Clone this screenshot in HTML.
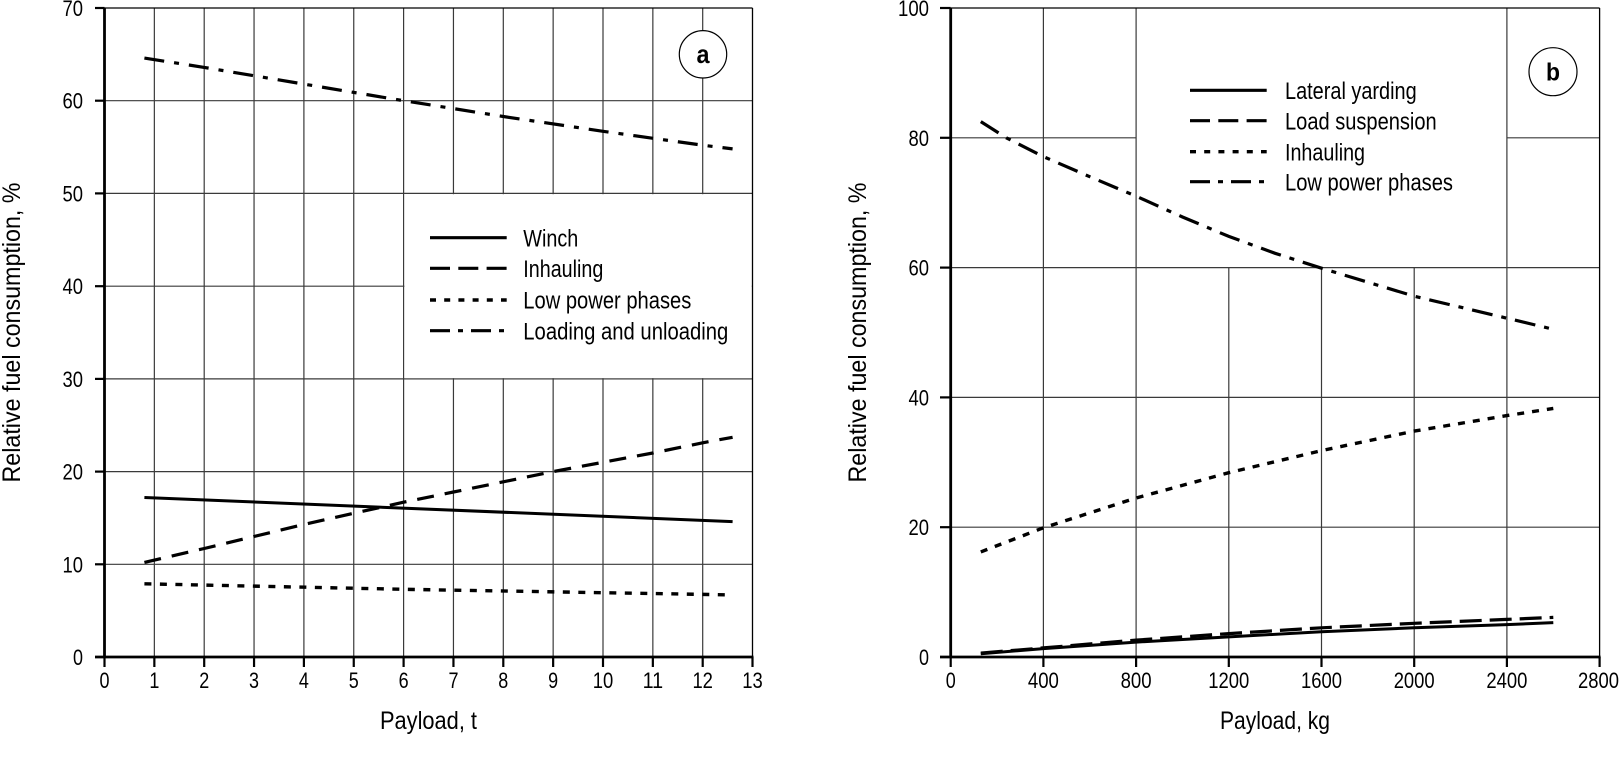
<!DOCTYPE html>
<html><head><meta charset="utf-8"><style>
html,body{margin:0;padding:0;background:#fff;}
svg{display:block;}
text{font-family:"Liberation Sans",Arial,sans-serif;fill:#000;}
</style></head><body>
<svg width="1620" height="762" viewBox="0 0 1620 762" xmlns="http://www.w3.org/2000/svg">
<rect x="0" y="0" width="1620" height="762" fill="#fff"/>

<!-- ============ LEFT CHART ============ -->
<g stroke="#3a3a3a" stroke-width="1.2" fill="none">
  <line x1="154.35" y1="8" x2="154.35" y2="657"/>
  <line x1="204.2" y1="8" x2="204.2" y2="657"/>
  <line x1="254.05" y1="8" x2="254.05" y2="657"/>
  <line x1="303.9" y1="8" x2="303.9" y2="657"/>
  <line x1="353.75" y1="8" x2="353.75" y2="657"/>
  <line x1="403.6" y1="8" x2="403.6" y2="657"/>
  <line x1="453.45" y1="8" x2="453.45" y2="657"/>
  <line x1="503.3" y1="8" x2="503.3" y2="657"/>
  <line x1="553.15" y1="8" x2="553.15" y2="657"/>
  <line x1="603.0" y1="8" x2="603.0" y2="657"/>
  <line x1="652.85" y1="8" x2="652.85" y2="657"/>
  <line x1="702.7" y1="8" x2="702.7" y2="657"/>
  <line x1="104.5" y1="564.3" x2="752.5" y2="564.3"/>
  <line x1="104.5" y1="471.6" x2="752.5" y2="471.6"/>
  <line x1="104.5" y1="378.9" x2="752.5" y2="378.9"/>
  <line x1="104.5" y1="286.2" x2="752.5" y2="286.2"/>
  <line x1="104.5" y1="193.4" x2="752.5" y2="193.4"/>
  <line x1="104.5" y1="100.7" x2="752.5" y2="100.7"/>
</g>
<!-- legend box left -->
<rect x="404.4" y="194.2" width="347.4" height="183.9" fill="#fff"/>
<!-- borders -->
<line x1="104.5" y1="8" x2="752.5" y2="8" stroke="#000" stroke-width="1.3"/>
<line x1="752.5" y1="8" x2="752.5" y2="657" stroke="#000" stroke-width="1.3"/>

<!-- series left -->
<polyline fill="none" stroke="#000" stroke-width="3.2" stroke-dasharray="20 10 5 10"
  points="144.4,58.1 204.2,67.4 303.9,84.1 403.6,100.7 503.3,116.5 603.0,131.3 702.7,145.2 732.6,148.9"/>
<polyline fill="none" stroke="#000" stroke-width="3" points="144.4,497.5 732.6,521.6"/>
<polyline fill="none" stroke="#000" stroke-width="3.2" stroke-dasharray="17 11"
  points="144.4,562.4 204.2,548.5 254.05,536.5 303.9,524.4 353.75,513.3 403.6,502.2 453.45,492.0 503.3,481.8 553.15,471.6 603.0,462.3 652.85,453.0 702.7,442.8 732.6,437.3"/>
<polyline fill="none" stroke="#000" stroke-width="3.4" stroke-dasharray="7 8.5"
  points="144.4,583.8 403.6,589.3 732.6,594.9"/>

<!-- axes left -->
<line x1="104.5" y1="8" x2="104.5" y2="658" stroke="#000" stroke-width="2.8"/>
<line x1="95" y1="657" x2="753.5" y2="657" stroke="#000" stroke-width="2.8"/>
<g stroke="#000" stroke-width="2.2">
  <line x1="95" y1="564.3" x2="104.5" y2="564.3"/>
  <line x1="95" y1="471.6" x2="104.5" y2="471.6"/>
  <line x1="95" y1="378.9" x2="104.5" y2="378.9"/>
  <line x1="95" y1="286.2" x2="104.5" y2="286.2"/>
  <line x1="95" y1="193.4" x2="104.5" y2="193.4"/>
  <line x1="95" y1="100.7" x2="104.5" y2="100.7"/>
  <line x1="95" y1="8" x2="104.5" y2="8"/>
  <line x1="104.5" y1="657" x2="104.5" y2="667"/>
  <line x1="154.35" y1="657" x2="154.35" y2="667"/>
  <line x1="204.2" y1="657" x2="204.2" y2="667"/>
  <line x1="254.05" y1="657" x2="254.05" y2="667"/>
  <line x1="303.9" y1="657" x2="303.9" y2="667"/>
  <line x1="353.75" y1="657" x2="353.75" y2="667"/>
  <line x1="403.6" y1="657" x2="403.6" y2="667"/>
  <line x1="453.45" y1="657" x2="453.45" y2="667"/>
  <line x1="503.3" y1="657" x2="503.3" y2="667"/>
  <line x1="553.15" y1="657" x2="553.15" y2="667"/>
  <line x1="603.0" y1="657" x2="603.0" y2="667"/>
  <line x1="652.85" y1="657" x2="652.85" y2="667"/>
  <line x1="702.7" y1="657" x2="702.7" y2="667"/>
  <line x1="752.5" y1="657" x2="752.5" y2="667"/>
</g>

<!-- y tick labels left -->
<g font-size="22" text-anchor="end">
  <text x="83" y="665" textLength="10" lengthAdjust="spacingAndGlyphs">0</text>
  <text x="83" y="572.3" textLength="20.5" lengthAdjust="spacingAndGlyphs">10</text>
  <text x="83" y="479.6" textLength="20.5" lengthAdjust="spacingAndGlyphs">20</text>
  <text x="83" y="386.9" textLength="20.5" lengthAdjust="spacingAndGlyphs">30</text>
  <text x="83" y="294.2" textLength="20.5" lengthAdjust="spacingAndGlyphs">40</text>
  <text x="83" y="201.4" textLength="20.5" lengthAdjust="spacingAndGlyphs">50</text>
  <text x="83" y="108.7" textLength="20.5" lengthAdjust="spacingAndGlyphs">60</text>
  <text x="83" y="16" textLength="20.5" lengthAdjust="spacingAndGlyphs">70</text>
</g>
<!-- x tick labels left -->
<g font-size="22" text-anchor="middle">
  <text x="104.5" y="688" textLength="10" lengthAdjust="spacingAndGlyphs">0</text>
  <text x="154.35" y="688" textLength="10" lengthAdjust="spacingAndGlyphs">1</text>
  <text x="204.2" y="688" textLength="10" lengthAdjust="spacingAndGlyphs">2</text>
  <text x="254.05" y="688" textLength="10" lengthAdjust="spacingAndGlyphs">3</text>
  <text x="303.9" y="688" textLength="10" lengthAdjust="spacingAndGlyphs">4</text>
  <text x="353.75" y="688" textLength="10" lengthAdjust="spacingAndGlyphs">5</text>
  <text x="403.6" y="688" textLength="10" lengthAdjust="spacingAndGlyphs">6</text>
  <text x="453.45" y="688" textLength="10" lengthAdjust="spacingAndGlyphs">7</text>
  <text x="503.3" y="688" textLength="10" lengthAdjust="spacingAndGlyphs">8</text>
  <text x="553.15" y="688" textLength="10" lengthAdjust="spacingAndGlyphs">9</text>
  <text x="603.0" y="688" textLength="20.5" lengthAdjust="spacingAndGlyphs">10</text>
  <text x="652.85" y="688" textLength="20.5" lengthAdjust="spacingAndGlyphs">11</text>
  <text x="702.7" y="688" textLength="20.5" lengthAdjust="spacingAndGlyphs">12</text>
  <text x="752.5" y="688" textLength="20.5" lengthAdjust="spacingAndGlyphs">13</text>
</g>

<!-- axis titles left -->
<text x="428.5" y="729" font-size="25" text-anchor="middle" textLength="97" lengthAdjust="spacingAndGlyphs">Payload, t</text>
<text transform="translate(20,332.5) rotate(-90)" font-size="25" text-anchor="middle" textLength="300" lengthAdjust="spacingAndGlyphs">Relative fuel consumption, %</text>

<!-- legend left -->
<line x1="430" y1="237.7" x2="506.7" y2="237.7" stroke="#000" stroke-width="3.2"/>
<line x1="430" y1="268.3" x2="506.7" y2="268.3" stroke="#000" stroke-width="3.2" stroke-dasharray="20 8.3"/>
<line x1="430" y1="300" x2="506.7" y2="300" stroke="#000" stroke-width="3.4" stroke-dasharray="6 8.2"/>
<line x1="430" y1="330.7" x2="506.7" y2="330.7" stroke="#000" stroke-width="3.2" stroke-dasharray="20 8 5 8 20 8 5 50"/>
<g font-size="24">
  <text x="523.3" y="246.3" textLength="55" lengthAdjust="spacingAndGlyphs">Winch</text>
  <text x="523.3" y="276.9" textLength="80" lengthAdjust="spacingAndGlyphs">Inhauling</text>
  <text x="523.3" y="308.6" textLength="168" lengthAdjust="spacingAndGlyphs">Low power phases</text>
  <text x="523.3" y="339.3" textLength="205" lengthAdjust="spacingAndGlyphs">Loading and unloading</text>
</g>

<!-- circle a -->
<circle cx="703" cy="54.3" r="23.7" fill="#fff" stroke="#000" stroke-width="1.2"/>
<text x="703" y="63" font-size="26" font-weight="bold" text-anchor="middle" textLength="13" lengthAdjust="spacingAndGlyphs">a</text>

<!-- ============ RIGHT CHART ============ -->
<g stroke="#3a3a3a" stroke-width="1.2" fill="none">
  <line x1="1043.4" y1="8" x2="1043.4" y2="657"/>
  <line x1="1136.1" y1="8" x2="1136.1" y2="657"/>
  <line x1="1228.8" y1="267.6" x2="1228.8" y2="657"/>
  <line x1="1321.5" y1="267.6" x2="1321.5" y2="657"/>
  <line x1="1414.2" y1="267.6" x2="1414.2" y2="657"/>
  <line x1="1506.9" y1="8" x2="1506.9" y2="657"/>
  <line x1="950.7" y1="527.2" x2="1599.6" y2="527.2"/>
  <line x1="950.7" y1="397.4" x2="1599.6" y2="397.4"/>
  <line x1="950.7" y1="267.6" x2="1599.6" y2="267.6"/>
  <line x1="950.7" y1="137.8" x2="1136.1" y2="137.8"/>
  <line x1="1506.9" y1="137.8" x2="1599.6" y2="137.8"/>
</g>
<line x1="950.7" y1="8" x2="1599.6" y2="8" stroke="#000" stroke-width="1.3"/>
<line x1="1599.6" y1="8" x2="1599.6" y2="657" stroke="#000" stroke-width="1.3"/>

<!-- series right -->
<polyline fill="none" stroke="#000" stroke-width="3.2" stroke-dasharray="21 9 5 9"
  points="980.8,121.6 1006.3,137.8 1043.4,156.6 1089.75,176.7 1136.1,196.2 1182.5,217.0 1228.8,236.4 1275.1,253.3 1321.5,268.2 1414.2,296.2 1506.9,318.2 1553.3,329.3"/>
<polyline fill="none" stroke="#000" stroke-width="3.4" stroke-dasharray="7 8"
  points="980.8,551.9 1043.4,527.8 1136.1,498.0 1228.8,472.7 1321.5,450.6 1414.2,431.1 1506.9,415.6 1553.3,408.4"/>
<polyline fill="none" stroke="#000" stroke-width="3"
  points="980.8,653.8 1043.4,648.6 1136.1,642.1 1228.8,636.9 1321.5,631.7 1414.2,627.8 1506.9,624.6 1553.3,622.6"/>
<polyline fill="none" stroke="#000" stroke-width="3.2" stroke-dasharray="22 8"
  points="980.8,653.1 1043.4,647.9 1136.1,640.1 1228.8,633.6 1321.5,627.8 1414.2,623.3 1506.9,619.4 1553.3,617.4"/>

<!-- axes right -->
<line x1="950.7" y1="8" x2="950.7" y2="658" stroke="#000" stroke-width="2.8"/>
<line x1="940" y1="657" x2="1600.6" y2="657" stroke="#000" stroke-width="2.8"/>
<g stroke="#000" stroke-width="2.2">
  <line x1="940" y1="527.2" x2="950.7" y2="527.2"/>
  <line x1="940" y1="397.4" x2="950.7" y2="397.4"/>
  <line x1="940" y1="267.6" x2="950.7" y2="267.6"/>
  <line x1="940" y1="137.8" x2="950.7" y2="137.8"/>
  <line x1="940" y1="8" x2="950.7" y2="8"/>
  <line x1="950.7" y1="657" x2="950.7" y2="667"/>
  <line x1="1043.4" y1="657" x2="1043.4" y2="667"/>
  <line x1="1136.1" y1="657" x2="1136.1" y2="667"/>
  <line x1="1228.8" y1="657" x2="1228.8" y2="667"/>
  <line x1="1321.5" y1="657" x2="1321.5" y2="667"/>
  <line x1="1414.2" y1="657" x2="1414.2" y2="667"/>
  <line x1="1506.9" y1="657" x2="1506.9" y2="667"/>
  <line x1="1599.6" y1="657" x2="1599.6" y2="667"/>
</g>

<!-- y tick labels right -->
<g font-size="22" text-anchor="end">
  <text x="929" y="665" textLength="10" lengthAdjust="spacingAndGlyphs">0</text>
  <text x="929" y="535.2" textLength="20.5" lengthAdjust="spacingAndGlyphs">20</text>
  <text x="929" y="405.4" textLength="20.5" lengthAdjust="spacingAndGlyphs">40</text>
  <text x="929" y="275.6" textLength="20.5" lengthAdjust="spacingAndGlyphs">60</text>
  <text x="929" y="145.8" textLength="20.5" lengthAdjust="spacingAndGlyphs">80</text>
  <text x="929" y="16" textLength="31" lengthAdjust="spacingAndGlyphs">100</text>
</g>
<!-- x tick labels right -->
<g font-size="22" text-anchor="middle">
  <text x="950.7" y="688" textLength="10" lengthAdjust="spacingAndGlyphs">0</text>
  <text x="1043.4" y="688" textLength="31" lengthAdjust="spacingAndGlyphs">400</text>
  <text x="1136.1" y="688" textLength="31" lengthAdjust="spacingAndGlyphs">800</text>
  <text x="1228.8" y="688" textLength="41" lengthAdjust="spacingAndGlyphs">1200</text>
  <text x="1321.5" y="688" textLength="41" lengthAdjust="spacingAndGlyphs">1600</text>
  <text x="1414.2" y="688" textLength="41" lengthAdjust="spacingAndGlyphs">2000</text>
  <text x="1506.9" y="688" textLength="41" lengthAdjust="spacingAndGlyphs">2400</text>
  <text x="1598.5" y="688" textLength="41" lengthAdjust="spacingAndGlyphs">2800</text>
</g>

<!-- axis titles right -->
<text x="1275" y="729" font-size="25" text-anchor="middle" textLength="110" lengthAdjust="spacingAndGlyphs">Payload, kg</text>
<text transform="translate(866,332.5) rotate(-90)" font-size="25" text-anchor="middle" textLength="300" lengthAdjust="spacingAndGlyphs">Relative fuel consumption, %</text>

<!-- legend right -->
<line x1="1190" y1="90.3" x2="1266.7" y2="90.3" stroke="#000" stroke-width="3.2"/>
<line x1="1190" y1="120.7" x2="1266.7" y2="120.7" stroke="#000" stroke-width="3.2" stroke-dasharray="20 8.3"/>
<line x1="1190" y1="151.7" x2="1266.7" y2="151.7" stroke="#000" stroke-width="3.4" stroke-dasharray="6 8.2"/>
<line x1="1190" y1="181.7" x2="1266.7" y2="181.7" stroke="#000" stroke-width="3.2" stroke-dasharray="20 8 5 8 20 8 5 50"/>
<g font-size="24">
  <text x="1285" y="98.9" textLength="131.7" lengthAdjust="spacingAndGlyphs">Lateral yarding</text>
  <text x="1285" y="129.3" textLength="151.7" lengthAdjust="spacingAndGlyphs">Load suspension</text>
  <text x="1285" y="160.3" textLength="80" lengthAdjust="spacingAndGlyphs">Inhauling</text>
  <text x="1285" y="190.3" textLength="168" lengthAdjust="spacingAndGlyphs">Low power phases</text>
</g>

<!-- circle b -->
<circle cx="1553" cy="71.7" r="24" fill="#fff" stroke="#000" stroke-width="1.2"/>
<text x="1553" y="80.5" font-size="25" font-weight="bold" text-anchor="middle" textLength="14" lengthAdjust="spacingAndGlyphs">b</text>
</svg>
</body></html>
